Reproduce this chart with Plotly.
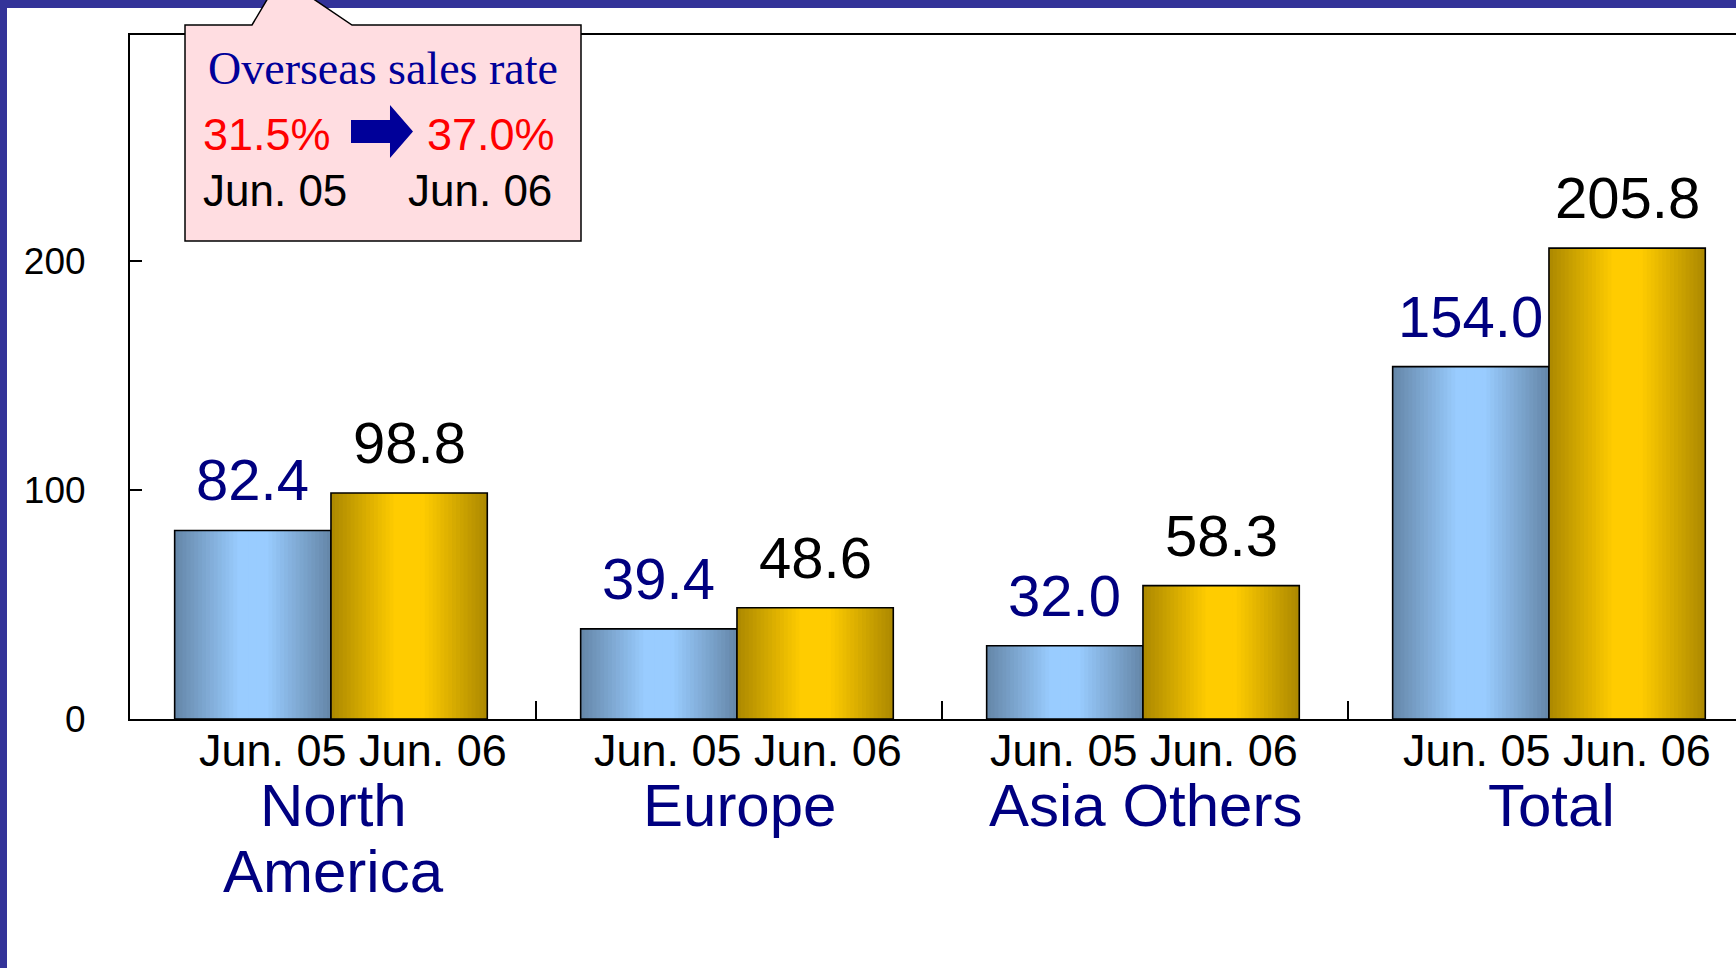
import plotly.graph_objects as go

# ---------------- data ----------------
categories = ["North America", "Europe", "Asia Others", "Total"]
category_lines = [["North", "America"], ["Europe"], ["Asia Others"], ["Total"]]
sales_jun05 = [82.4, 39.4, 32.0, 154.0]
sales_jun06 = [98.8, 48.6, 58.3, 205.8]
period_labels = ["Jun. 05", "Jun. 06"]
callout_title = "Overseas sales rate"
rate_jun05 = "31.5%"
rate_jun06 = "37.0%"
y_tickvals = [0, 100, 200]

# ---------------- layout constants ----------------
W, H = 1736, 968
ML, MR, MT, MB = 130, 0, 35, 249
PW = W - ML - MR
PH = H - MT - MB
CAT_PX = 406.0  # pixel width of one category
PERIOD_XSHIFT = [20, 9, -1, 6]

def px(x):
    return (x - ML) / PW

def py(y):
    return (H - MB - y) / PH

def hex2rgb(h):
    h = h.lstrip("#")
    return tuple(int(h[i:i + 2], 16) for i in (0, 2, 4))

def lerp(c1, c2, t):
    a, b = hex2rgb(c1), hex2rgb(c2)
    return "rgb(%d,%d,%d)" % tuple(round(a[i] + (b[i] - a[i]) * t) for i in range(3))

BW = 0.385
OFF05 = -0.39
OFF06 = -0.005
SANS = "Liberation Sans, Arial, sans-serif"
SERIF = "Liberation Serif, Times New Roman, serif"
NAVY = "#000080"

fig = go.Figure()

def gradient_bars(values, offset, edge, center, n=20):
    for k in range(n):
        t = min(1.0, k / (n * 0.8))
        w = BW * (1 - k / n)
        off = offset + (BW - w) / 2
        fig.add_trace(go.Bar(
            x=categories, y=values, width=w, offset=off,
            marker=dict(color=lerp(edge, center, t), line=dict(width=0)),
            showlegend=False, hoverinfo="skip"))
    fig.add_trace(go.Bar(
        x=categories, y=values, width=BW, offset=offset,
        marker=dict(color="rgba(0,0,0,0)", line=dict(color="black", width=1.6)),
        showlegend=False, hoverinfo="skip"))

gradient_bars(sales_jun05, OFF05, "#6688AA", "#99CCFF")
gradient_bars(sales_jun06, OFF06, "#AE8A00", "#FFCC00")

annotations = []
# value labels
for i, c in enumerate(categories):
    annotations.append(dict(
        x=c, y=sales_jun05[i], xref="x", yref="y", text="%.1f" % sales_jun05[i],
        showarrow=False, xanchor="center", yanchor="bottom",
        xshift=(OFF05 + BW / 2) * CAT_PX, yshift=16,
        font=dict(family=SANS, size=58, color=NAVY)))
    annotations.append(dict(
        x=c, y=sales_jun06[i], xref="x", yref="y", text="%.1f" % sales_jun06[i],
        showarrow=False, xanchor="center", yanchor="bottom",
        xshift=(OFF06 + BW / 2) * CAT_PX, yshift=16,
        font=dict(family=SANS, size=58, color="black")))
    # period labels under each group
    annotations.append(dict(
        x=c, y=py(750), xref="x", yref="paper", text=" ".join(period_labels),
        showarrow=False, xanchor="center", yanchor="middle", xshift=PERIOD_XSHIFT[i],
        font=dict(family=SANS, size=45, color="black")))
    # category names
    for j, line in enumerate(category_lines[i]):
        annotations.append(dict(
            x=c, y=py(805 + 66 * j), xref="x", yref="paper", text=line,
            showarrow=False, xanchor="center", yanchor="middle",
            font=dict(family=SANS, size=60, color=NAVY)))

# callout texts
annotations += [
    dict(x=px(383), y=py(68), xref="paper", yref="paper", text=callout_title,
         showarrow=False, xanchor="center", yanchor="middle",
         font=dict(family=SERIF, size=46, color="#000099")),
    dict(x=px(267), y=py(134), xref="paper", yref="paper", text=rate_jun05,
         showarrow=False, xanchor="center", yanchor="middle",
         font=dict(family=SANS, size=45, color="#FF0000")),
    dict(x=px(491), y=py(134), xref="paper", yref="paper", text=rate_jun06,
         showarrow=False, xanchor="center", yanchor="middle",
         font=dict(family=SANS, size=45, color="#FF0000")),
    dict(x=px(275), y=py(190), xref="paper", yref="paper", text=period_labels[0],
         showarrow=False, xanchor="center", yanchor="middle",
         font=dict(family=SANS, size=44, color="black")),
    dict(x=px(480), y=py(190), xref="paper", yref="paper", text=period_labels[1],
         showarrow=False, xanchor="center", yanchor="middle",
         font=dict(family=SANS, size=44, color="black")),
]

def path(points):
    return "M " + " L ".join("%.5f,%.5f" % (px(x), py(y)) for x, y in points) + " Z"

shapes = [
    # blue frame bands
    dict(type="rect", xref="paper", yref="paper", x0=px(0), x1=px(W), y0=py(0), y1=py(8),
         fillcolor="#333399", line=dict(width=0), layer="above"),
    dict(type="rect", xref="paper", yref="paper", x0=px(0), x1=px(7), y0=py(0), y1=py(H),
         fillcolor="#333399", line=dict(width=0), layer="above"),
    # callout
    dict(type="path", xref="paper", yref="paper",
         path=path([(185, 25), (252, 25), (268, -2), (312, -2), (352, 25), (581, 25),
                    (581, 241), (185, 241)]),
         fillcolor="#FFDDE1", line=dict(color="black", width=1.5), layer="above"),
    # arrow
    dict(type="path", xref="paper", yref="paper",
         path=path([(351, 120), (390, 120), (390, 105), (413, 131.5), (390, 158),
                    (390, 143), (351, 143)]),
         fillcolor="#000099", line=dict(width=0), layer="above"),
]

fig.update_layout(
    width=W, height=H,
    margin=dict(l=ML, r=MR, t=MT, b=MB, pad=0),
    paper_bgcolor="white", plot_bgcolor="white",
    barmode="overlay",
    showlegend=False,
    annotations=annotations,
    shapes=shapes,
    xaxis=dict(
        type="category", categoryorder="array", categoryarray=categories,
        range=[-0.5, -0.5 + PW / CAT_PX],
        showticklabels=False, showgrid=False, zeroline=False,
        showline=True, linecolor="black", linewidth=2, mirror=True,
        ticks="inside", tickson="boundaries", ticklen=18, tickwidth=1.5, tickcolor="black",
    ),
    yaxis=dict(
        range=[0, PH / 2.288], tickvals=y_tickvals,
        showgrid=False, zeroline=False,
        showline=True, linecolor="black", linewidth=2,
        ticks="inside", ticklen=12, tickwidth=1.5, tickcolor="black",
        ticklabelstandoff=35,
        tickfont=dict(family=SANS, size=37, color="black"),
    ),
)

fig.write_html(
    "out.html",
    config={"displayModeBar": False},
    post_script="document.body.style.margin='0';document.body.style.overflow='hidden';",
)
